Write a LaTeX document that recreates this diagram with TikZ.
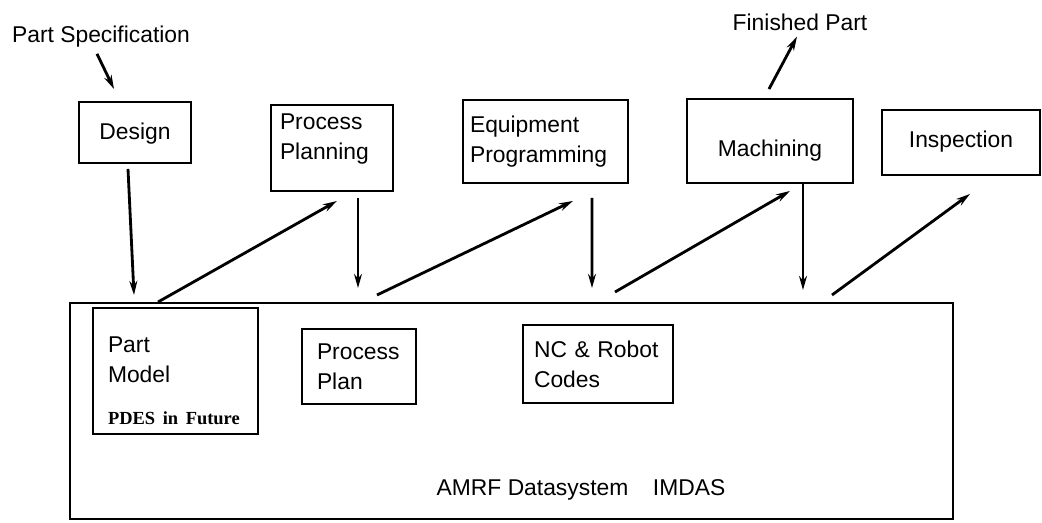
\documentclass[tikz,border=0pt]{standalone}
\usepackage{fontspec}
\setmainfont{Liberation Sans}
\newfontfamily\pdesfont{Liberation Serif}
\usetikzlibrary{arrows.meta,calc}

\tikzset{
  box/.style={draw,line width=1.1pt,inner sep=0pt,font=\fontsize{13}{17}\selectfont},
  lbox/.style={box,align=left},
  flow/.style={line width=1.6pt,-{Stealth[length=8pt,width=4.5pt]}},
  lbl/.style={font=\fontsize{13}{17}\selectfont},
}

\begin{document}
\begin{tikzpicture}[x=0.02cm,y=-0.02cm]
  \useasboundingbox (0,0) rectangle (1042,522);

  % functions on top
  \node[box,minimum width=2.24cm,minimum height=1.22cm] (design) at (135,132.5) {\raisebox{-4pt}[0pt][0pt]{Design}};
  \node[lbox,minimum width=2.44cm,minimum height=1.72cm,text width=2.08cm] (planning) at (332,148)
     {Process\\Planning\rule[-13pt]{0pt}{13pt}};
  \node[lbox,minimum width=3.3cm,minimum height=1.66cm,text width=3.02cm] (equip) at (545.5,141.5) {Equipment\\Programming};
  \node[box,minimum width=3.32cm,minimum height=1.68cm] (machining) at (770,141) {\raisebox{-9pt}[0pt][0pt]{Machining}};
  \node[box,minimum width=3.16cm,minimum height=1.3cm] (inspection) at (961,142.5) {\raisebox{-3pt}[0pt][0pt]{Inspection}};

  \node[lbl] (spec) at (101,37) {Part Specification};
  \node[lbl] (finished) at (800,22) {Finished Part};

  % the datasystem
  \node[box,minimum width=17.66cm,minimum height=4.32cm] (dbs) at (511.5,411) {};
  \node[lbl] (dbsname) at (581,490) {AMRF Datasystem\hspace{14pt}IMDAS};

  \node[lbox,minimum width=3.3cm,minimum height=2.52cm,text width=2.7cm] (partmodel) at (175.5,371)
     {\rule{0pt}{20pt}Part\\Model\\[7pt]{\pdesfont\bfseries\fontsize{10.5}{12}\selectfont PDES in Future}};
  \node[lbox,minimum width=2.28cm,minimum height=1.5cm,text width=1.68cm] (plan) at (359,366.5) {Process\\Plan};
  \node[lbox,minimum width=3.0cm,minimum height=1.56cm,text width=2.56cm] (codes) at (598,364) {NC \& Robot\\Codes};

  % free ends on the datasystem
  \coordinate (in1) at (134,295);
  \coordinate (out1) at (158,302);
  \coordinate (in2) at (358,288);
  \coordinate (out2) at (377,295);
  \coordinate (in3) at (592,288);
  \coordinate (out3) at (615,292);
  \coordinate (in4) at (803,290);
  \coordinate (out4) at (832,295);

  \draw[flow] ($(spec.south)+(-4,0)$) -- ($(design.north)+(-21,-12)$);
  \draw[flow] ($(machining.north)+(-1,-9)$) -- ($(finished.south)+(-3,0)$);

  \draw[flow] ($(design.south)+(-7,5)$) -- (in1);
  \draw[flow] (out1) -- ($(planning.south)+(5,9)$);
  \draw[flow] ($(planning.south)+(26,6)$) -- (in2);
  \draw[flow] (out2) -- ($(equip.south)+(27.5,17)$);
  \draw[flow] ($(equip.south)+(46.5,14)$) -- (in3);
  \draw[flow] (out3) -- ($(machining.south)+(20,7)$);
  \draw[flow] ($(machining.south)+(33,0)$) -- (in4);
  \draw[flow] (out4) -- ($(inspection.south)+(9,18)$);

\end{tikzpicture}
\end{document}
